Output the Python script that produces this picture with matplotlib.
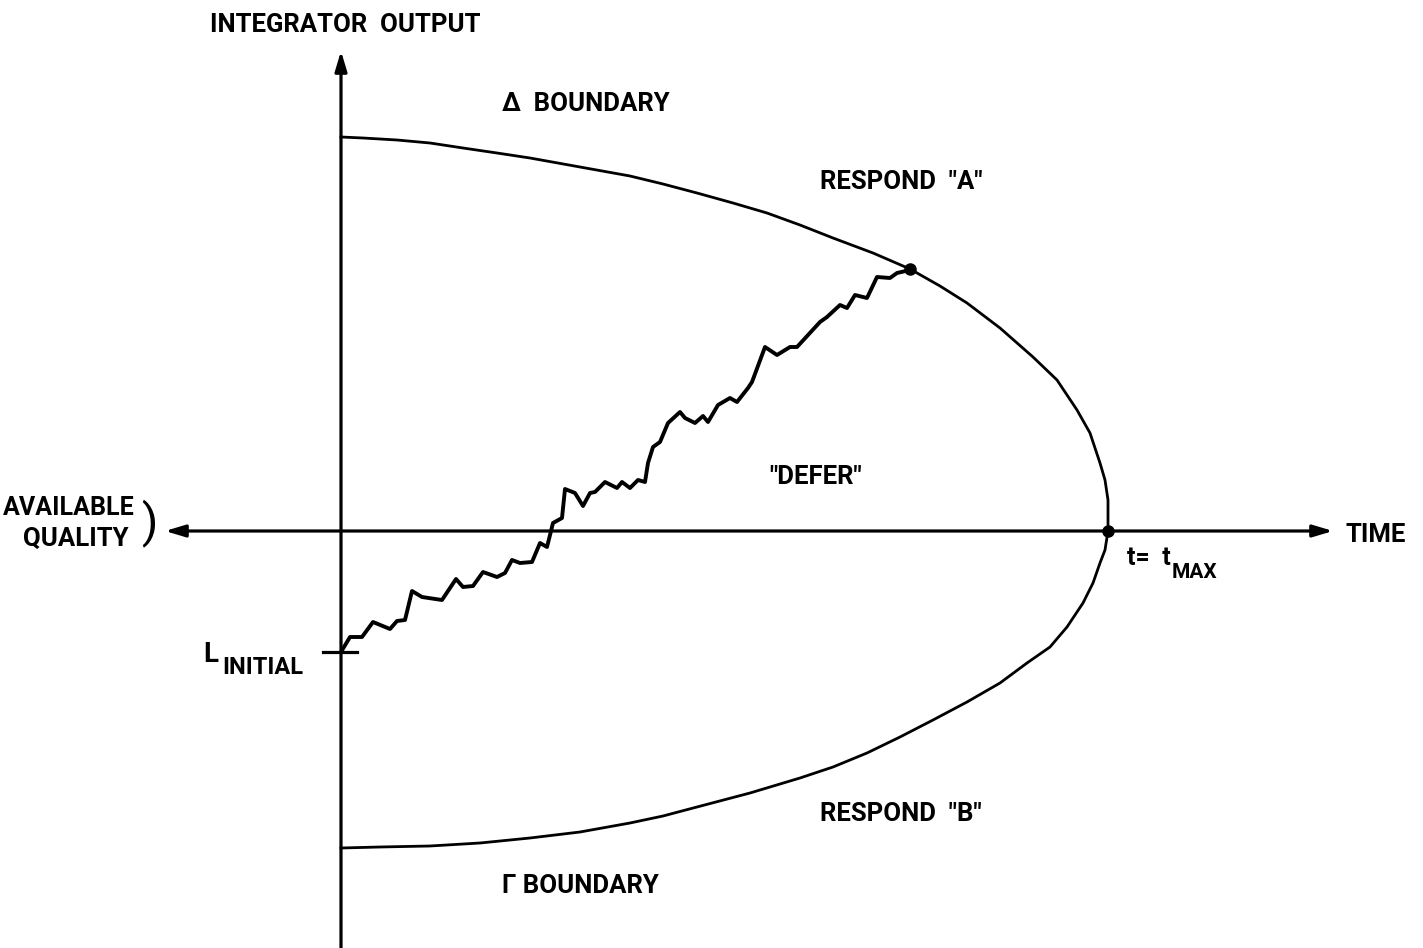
import numpy as np
import matplotlib.pyplot as plt

plt.rcParams['font.family'] = ['Roboto', 'DejaVu Sans']

# diagram units: time to the right from the vertical axis, integrator output up from the time axis
# upper (Delta) boundary
delta_t = [0, 22, 56, 89, 122, 156, 189, 239, 289, 322, 356, 392, 426, 459, 492, 532, 569, 599, 626, 659,
           692, 716, 736, 749, 759, 764, 767, 767, 767]
delta_v = [394, 393, 391, 388, 383, 378, 373, 364, 355, 347, 338, 328, 318, 306, 293, 278, 262, 245, 228, 203,
           174, 151, 121, 98, 68, 51, 31, 18, 0]

# lower (Gamma) boundary
gamma_t = [0, 39, 89, 139, 189, 239, 289, 322, 356, 409, 459, 492, 526, 559, 592, 626, 659, 686, 709, 726,
           742, 752, 759, 764, 767]
gamma_v = [-317, -316, -315, -312, -307, -301, -292, -285, -276, -262, -247, -236, -222, -206, -189, -171, -152,
           -132, -116, -96, -72, -52, -32, -19, 0]

# integrator path from L initial up to the Delta boundary
walk_t = [0, 9, 21, 32, 49, 56, 64, 71, 81, 101, 115, 122, 132, 142, 156, 164, 171, 179, 191, 199,
          206, 212, 221, 224, 234, 242, 249, 254, 264, 276, 281, 289, 297, 304, 307, 312, 319, 327, 339, 344,
          354, 362, 367, 377, 389, 396, 407, 411, 424, 436, 449, 456, 479, 486, 499, 506, 514, 526, 536, 549,
          556, 569]
walk_v = [-121, -106, -106, -91, -98, -90, -89, -60, -66, -69, -48, -56, -55, -41, -46, -42, -29, -32, -31, -12,
          -16, 8, 13, 42, 38, 25, 38, 39, 49, 43, 49, 43, 51, 49, 68, 84, 89, 108, 119, 113,
          108, 115, 109, 126, 133, 129, 143, 149, 184, 176, 184, 184, 209, 214, 226, 223, 236, 233, 254, 253,
          258, 261]

l_initial = -121
t_max = 767
hit_t, hit_v = 569, 262

fig = plt.figure(figsize=(14.23, 9.48), dpi=100)
ax = fig.add_axes([0, 0, 1, 1])
ax.set_xlim(-341, 1082)
ax.set_ylim(-417, 531)
ax.axis('off')

arrow = dict(arrowstyle='-|>,head_length=1.2,head_width=0.36', lw=2.3, color='black',
             shrinkA=0, shrinkB=0)
# vertical axis
ax.annotate('', xy=(0, 480), xytext=(0, -420), arrowprops=arrow)
# time axis, both ways
ax.annotate('', xy=(992, 0), xytext=(0, 0), arrowprops=arrow)
ax.annotate('', xy=(-176, 0), xytext=(0, 0), arrowprops=arrow)

ax.plot(delta_t, delta_v, color='black', lw=2.0, solid_joinstyle='round')
ax.plot(gamma_t, gamma_v, color='black', lw=2.0, solid_joinstyle='round')
ax.plot(walk_t, walk_v, color='black', lw=2.8, solid_joinstyle='round', solid_capstyle='round')

# L initial tick
ax.plot([-18, 16], [l_initial, l_initial], color='black', lw=2.3)
# end points
ax.plot([hit_t, t_max], [hit_v, 0], 'o', color='black', ms=8)

fs = 18.5
txt = dict(color='black', fontsize=fs, va='center', fontweight='bold')
ax.text(-131, 506, 'INTEGRATOR  OUTPUT', ha='left', **txt)
ax.text(161, 427, '\u0394  BOUNDARY', ha='left', **txt)
ax.text(479, 349, 'RESPOND  "A"', ha='left', **txt)
ax.text(428, 54, '"DEFER"', ha='left', **txt)
ax.text(479, -283, 'RESPOND  "B"', ha='left', **txt)
ax.text(161, -355, '\u0393 BOUNDARY', ha='left', **txt)
ax.text(1004, -4, 'TIME', ha='left', **txt)
ax.text(786, -27, 't=  t', ha='left', color='black', fontsize=18, va='center', fontweight='bold')
ax.text(831, -42, 'MAX', ha='left', color='black', fontsize=15, va='center', fontweight='bold')
ax.text(-138, -123, 'L', ha='left', color='black', fontsize=20, va='center', fontweight='bold')
ax.text(-119, -136, 'INITIAL', ha='left', color='black', fontsize=17, va='center', fontweight='bold')
ax.text(-206, 23, 'AVAILABLE', ha='right', color='black', fontsize=18, va='center', fontweight='bold')
ax.text(-213, -8, 'QUALITY', ha='right', **txt)
ax.text(-192, 8, ')', ha='center', color='black', fontsize=34, va='center')

fig.savefig('out.png', dpi=100)
